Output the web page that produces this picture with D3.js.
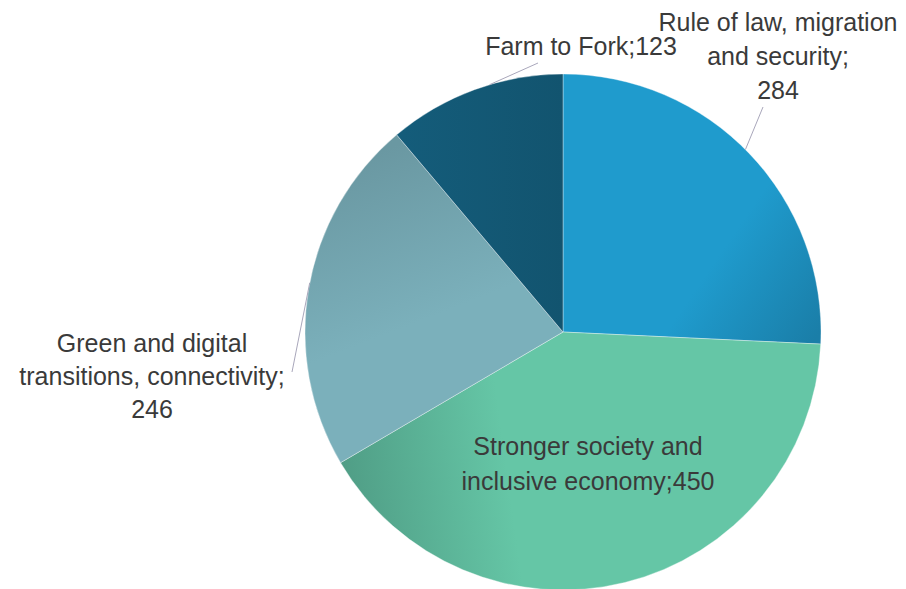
<!DOCTYPE html>
<html>
<head>
<meta charset="utf-8">
<script src="https://cdn.jsdelivr.net/npm/d3@7"></script>
<style>
  html, body { margin: 0; padding: 0; background: #fff; }
  svg { display: block; }
  .lbl { font-family: "Liberation Sans", Arial, sans-serif; font-size: 25px; fill: #3a3a3a; }
</style>
</head>
<body>
<div id="chart"></div>
<script>
// data
var categories = ["Rule of law, migration and security",
                  "Stronger society and inclusive economy",
                  "Green and digital transitions, connectivity",
                  "Farm to Fork"];
var values = [284, 450, 246, 123];
var labelLines = [
  ["Rule of law, migration", "and security;", "284"],
  ["Stronger society and", "inclusive economy;450"],
  ["Green and digital", "transitions, connectivity;", "246"],
  ["Farm to Fork;123"]
];

// colours: [light, dark] for each slice gradient
var colors = [
  ["#1f9bcd", "#1a7ea8"],
  ["#65c6a6", "#4e9a83"],
  ["#7bb0bb", "#6a98a2"],
  ["#145c7a", "#12546f"]
];

var width = 906, height = 589;
var cx = 563, cy = 332, radius = 258;

// label layout (relative to pie centre) and leader-line targets
var labelPos = [
  {x: 215,  y: -301, lh: 34, lead: [200, -225], edge: 45},
  {x: 25,   y: 123,  lh: 35, lead: null},
  {x: -411, y: 20,   lh: 33, lead: [-271, 40], edge: 281},
  {x: 18,   y: -277, lh: 34, lead: [-25, -269], edge: 343.5}
];

// gradient vectors, relative to the pie centre
var gradDirs = [
  {x1: 60,   y1: -120, x2: 250,  y2: 10},
  {x1: -30,  y1: 0,    x2: -250, y2: 30},
  {x1: -120, y1: 60,   x2: -210, y2: -170},
  {x1: -160, y1: 0,    x2: 0,    y2: 0}
];
var gradStops = [
  [[0, 0], [0.45, 0], [1, 1]],
  [[0, 0], [0.2, 0], [1, 1]],
  [[0, 0], [0.3, 0], [1, 1]],
  [[0, 0], [1, 1]]
];

var svg = d3.select("#chart").append("svg")
    .attr("width", width)
    .attr("height", height);

var defs = svg.append("defs");

colors.forEach(function(c, i) {
  var gr = defs.append("linearGradient")
      .attr("id", "grad" + i)
      .attr("gradientUnits", "userSpaceOnUse")
      .attr("x1", gradDirs[i].x1).attr("y1", gradDirs[i].y1)
      .attr("x2", gradDirs[i].x2).attr("y2", gradDirs[i].y2);
  gradStops[i].forEach(function(s) {
    gr.append("stop").attr("offset", s[0]).attr("stop-color", c[s[1]]);
  });
});

var pie = d3.pie().sort(null).value(function(d) { return d; });
var arc = d3.arc().innerRadius(0).outerRadius(radius);

var g = svg.append("g")
    .attr("transform", "translate(" + cx + "," + cy + ")");

g.selectAll("path.slice")
  .data(pie(values))
  .enter().append("path")
    .attr("class", "slice")
    .attr("d", arc)
    .attr("fill", function(d, i) { return "url(#grad" + i + ")"; })
    .attr("stroke", "#ffffff")
    .attr("stroke-opacity", 0.45)
    .attr("stroke-width", 0.8);

// leader lines
labelPos.forEach(function(p) {
  if (!p.lead) return;
  var a = p.edge * Math.PI / 180;
  g.append("line")
    .attr("x1", p.lead[0]).attr("y1", p.lead[1])
    .attr("x2", radius * Math.sin(a)).attr("y2", -radius * Math.cos(a))
    .attr("stroke", "#a9a7bb")
    .attr("stroke-width", 1);
});

// labels
labelLines.forEach(function(lines, i) {
  var p = labelPos[i];
  var t = g.append("text")
      .attr("class", "lbl")
      .attr("text-anchor", "middle");
  lines.forEach(function(l, j) {
    t.append("tspan")
      .attr("x", p.x)
      .attr("y", p.y + j * p.lh)
      .text(l);
  });
});
</script>
</body>
</html>
